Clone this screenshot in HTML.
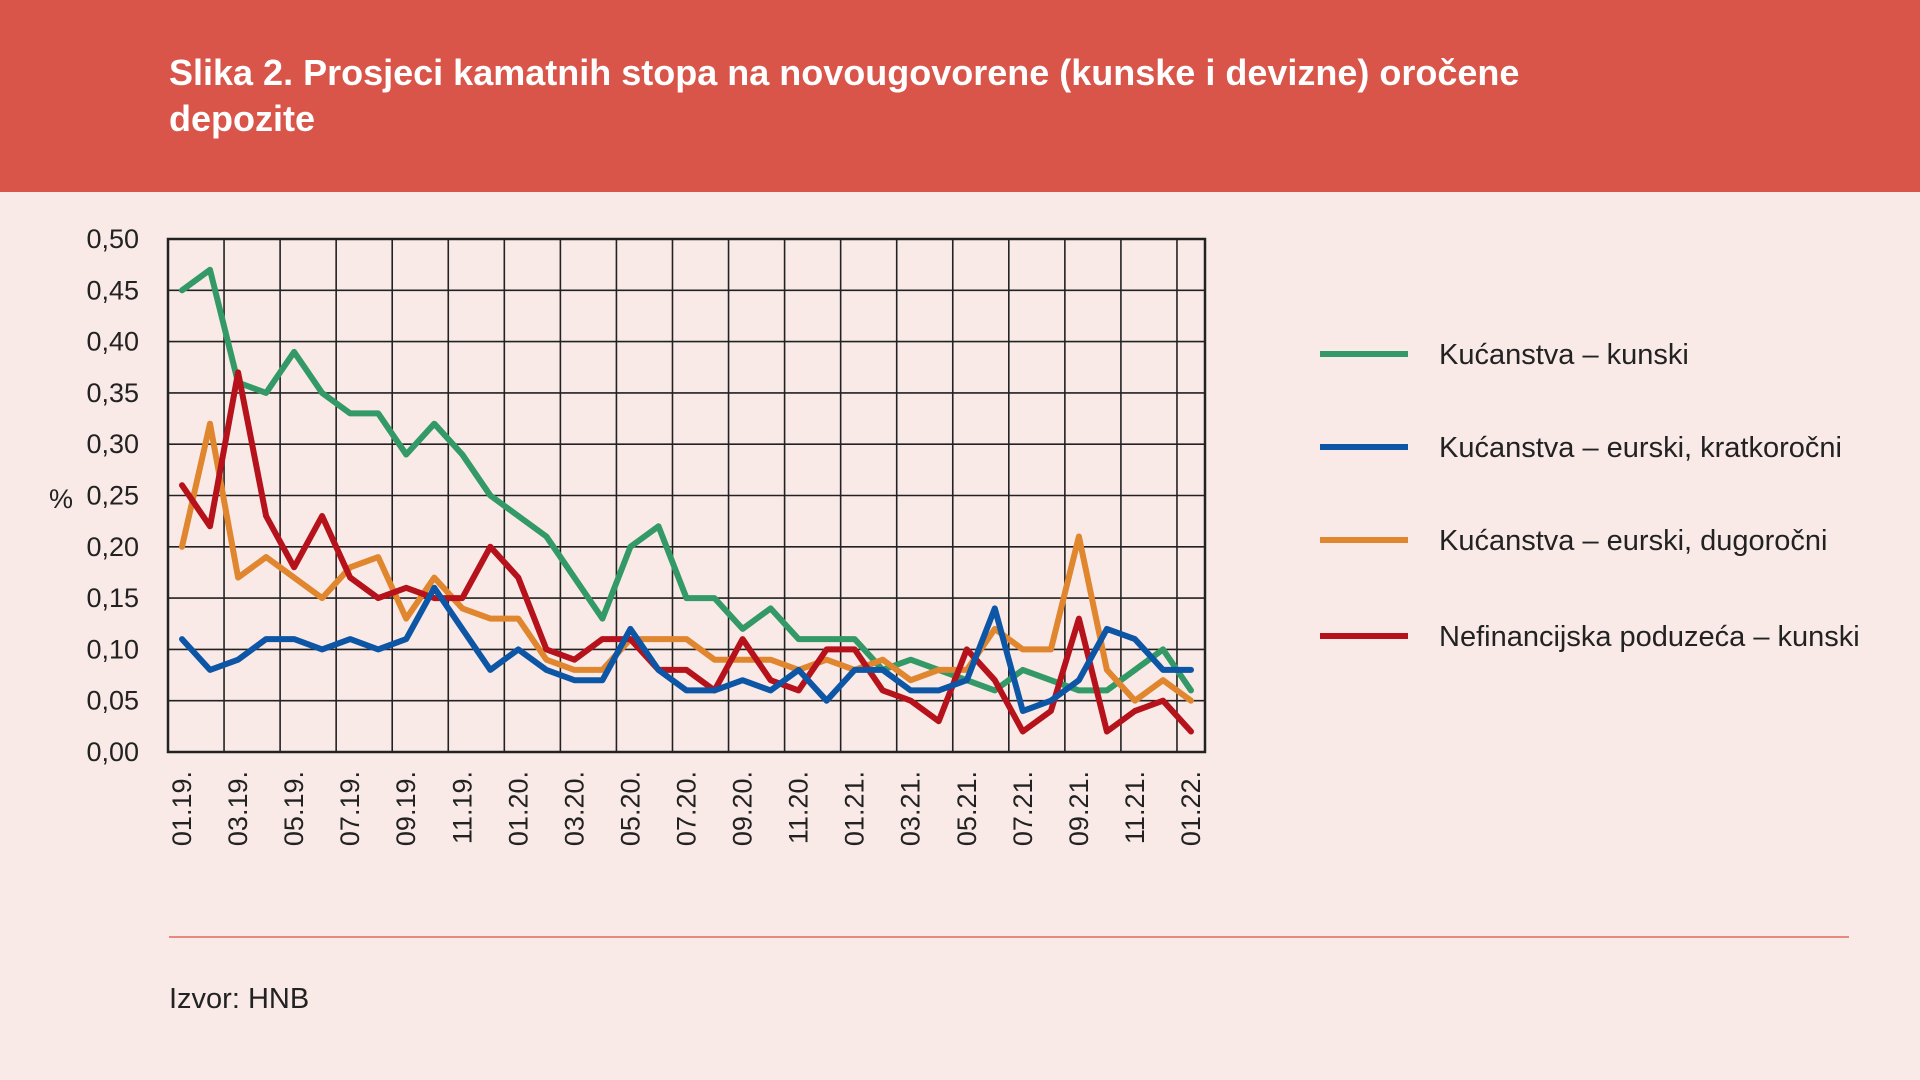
<!DOCTYPE html>
<html><head><meta charset="utf-8"><style>
body{margin:0;width:1920px;height:1080px;background:#f9eae7;overflow:hidden;font-family:"Liberation Sans",sans-serif}
#hdr{position:absolute;left:0;top:0;width:1920px;height:192px;background:#d9554a}
#title{position:absolute;left:169px;top:50px;color:#fff;font-weight:bold;font-size:36px;line-height:46px;margin:0}
svg{position:absolute;left:0;top:0}
</style></head><body>
<div id="hdr"></div>
<h1 id="title">Slika 2. Prosjeci kamatnih stopa na novougovorene (kunske i devizne) oročene<br>depozite</h1>
<svg id="chart" width="1920" height="1080"></svg>
<script>
const months=["01.19.","02.19.","03.19.","04.19.","05.19.","06.19.","07.19.","08.19.","09.19.","10.19.","11.19.","12.19.","01.20.","02.20.","03.20.","04.20.","05.20.","06.20.","07.20.","08.20.","09.20.","10.20.","11.20.","12.20.","01.21.","02.21.","03.21.","04.21.","05.21.","06.21.","07.21.","08.21.","09.21.","10.21.","11.21.","12.21.","01.22."];
const yTicks=[0,0.05,0.10,0.15,0.20,0.25,0.30,0.35,0.40,0.45,0.50];
const seriesNames=["Kućanstva – kunski","Kućanstva – eurski, kratkoročni","Kućanstva – eurski, dugoročni","Nefinancijska poduzeća – kunski"];
const green=[.45,.47,.36,.35,.39,.35,.33,.33,.29,.32,.29,.25,.23,.21,.17,.13,.20,.22,.15,.15,.12,.14,.11,.11,.11,.08,.09,.08,.07,.06,.08,.07,.06,.06,.08,.10,.06];
const blue=[.11,.08,.09,.11,.11,.10,.11,.10,.11,.16,.12,.08,.10,.08,.07,.07,.12,.08,.06,.06,.07,.06,.08,.05,.08,.08,.06,.06,.07,.14,.04,.05,.07,.12,.11,.08,.08];
const orange=[.20,.32,.17,.19,.17,.15,.18,.19,.13,.17,.14,.13,.13,.09,.08,.08,.11,.11,.11,.09,.09,.09,.08,.09,.08,.09,.07,.08,.08,.12,.10,.10,.21,.08,.05,.07,.05];
const red=[.26,.22,.37,.23,.18,.23,.17,.15,.16,.15,.15,.20,.17,.10,.09,.11,.11,.08,.08,.06,.11,.07,.06,.10,.10,.06,.05,.03,.10,.07,.02,.04,.13,.02,.04,.05,.02];
const colors=["#339966","#0d56a6","#e0862f","#b5121b"];
const L=168,R=1205,T=239,B=752;
const bw=(R-L)/months.length;
const xs=i=>L+bw*(i+0.5);
const ys=v=>B-(v/0.5)*(B-T);
const svg=document.getElementById('chart');
const NS="http://www.w3.org/2000/svg";
function mk(t,a){const e=document.createElementNS(NS,t);for(const k in a)e.setAttribute(k,a[k]);svg.appendChild(e);return e;}
// horizontal grid + y labels
yTicks.forEach(v=>{
 const g=mk('line',{x1:L,x2:R,y1:ys(v),y2:ys(v),stroke:'#222','stroke-width':1.6});
 
 
 const t=mk('text',{x:139,y:ys(v)+9,'text-anchor':'end','font-size':27,fill:'#222','font-family':'"Liberation Sans Narrow","Liberation Sans",sans-serif'});
 t.textContent=v.toFixed(2).replace('.',',');
 
 
});
// vertical grid + x labels
for(let i=0;i<months.length;i+=2){
 const gx=L+bw*i;
 const g=mk('line',{x1:gx,x2:gx,y1:T,y2:B,stroke:'#222','stroke-width':1.6});
 
 
 const cx=xs(i)+9;
 const t=mk('text',{x:cx,y:771,'text-anchor':'end','font-size':27,fill:'#222','font-family':'"Liberation Sans Narrow","Liberation Sans",sans-serif',transform:`rotate(-90 ${cx} 771)`});
 t.textContent=months[i];
 
 
}
const fr=mk('rect',{x:L,y:T,width:R-L,height:B-T,fill:'none',stroke:'#222','stroke-width':2.5});


const yt=mk('text',{x:49,y:508,'font-size':27,fill:'#222','font-family':'"Liberation Sans Narrow","Liberation Sans",sans-serif'});
yt.textContent='%';


const all=[green,blue,orange,red];
const snames=['series-households-kuna','series-households-euro-short','series-households-euro-long','series-corporates-kuna'];
[green,orange,red,blue].forEach(()=>{});
[0,2,3,1].forEach(k=>{
 const d=all[k].map((v,i)=>(i?'L':'M')+xs(i).toFixed(1)+' '+ys(v).toFixed(1)).join(' ');
 const p=mk('path',{d:d,fill:'none',stroke:colors[k],'stroke-width':6,'stroke-linejoin':'round','stroke-linecap':'round'});
 
 
});
const ly=[354,447,540,636];
seriesNames.forEach((n,k)=>{
 const l=mk('line',{x1:1320,x2:1408,y1:ly[k],y2:ly[k],stroke:colors[k],'stroke-width':6});
 
 
 const t=mk('text',{x:1439,y:ly[k]+10,'font-size':29,fill:'#222','font-family':'"Liberation Sans Narrow","Liberation Sans",sans-serif'});
 t.textContent=n;
 
 
});
const sep=mk('line',{x1:169,x2:1849,y1:937,y2:937,stroke:'#e06a5c','stroke-width':1.5});


const src=mk('text',{x:169,y:1008,'font-size':29,fill:'#222','font-family':'"Liberation Sans",sans-serif'});
src.textContent='Izvor: HNB';


</script>
</body></html>
